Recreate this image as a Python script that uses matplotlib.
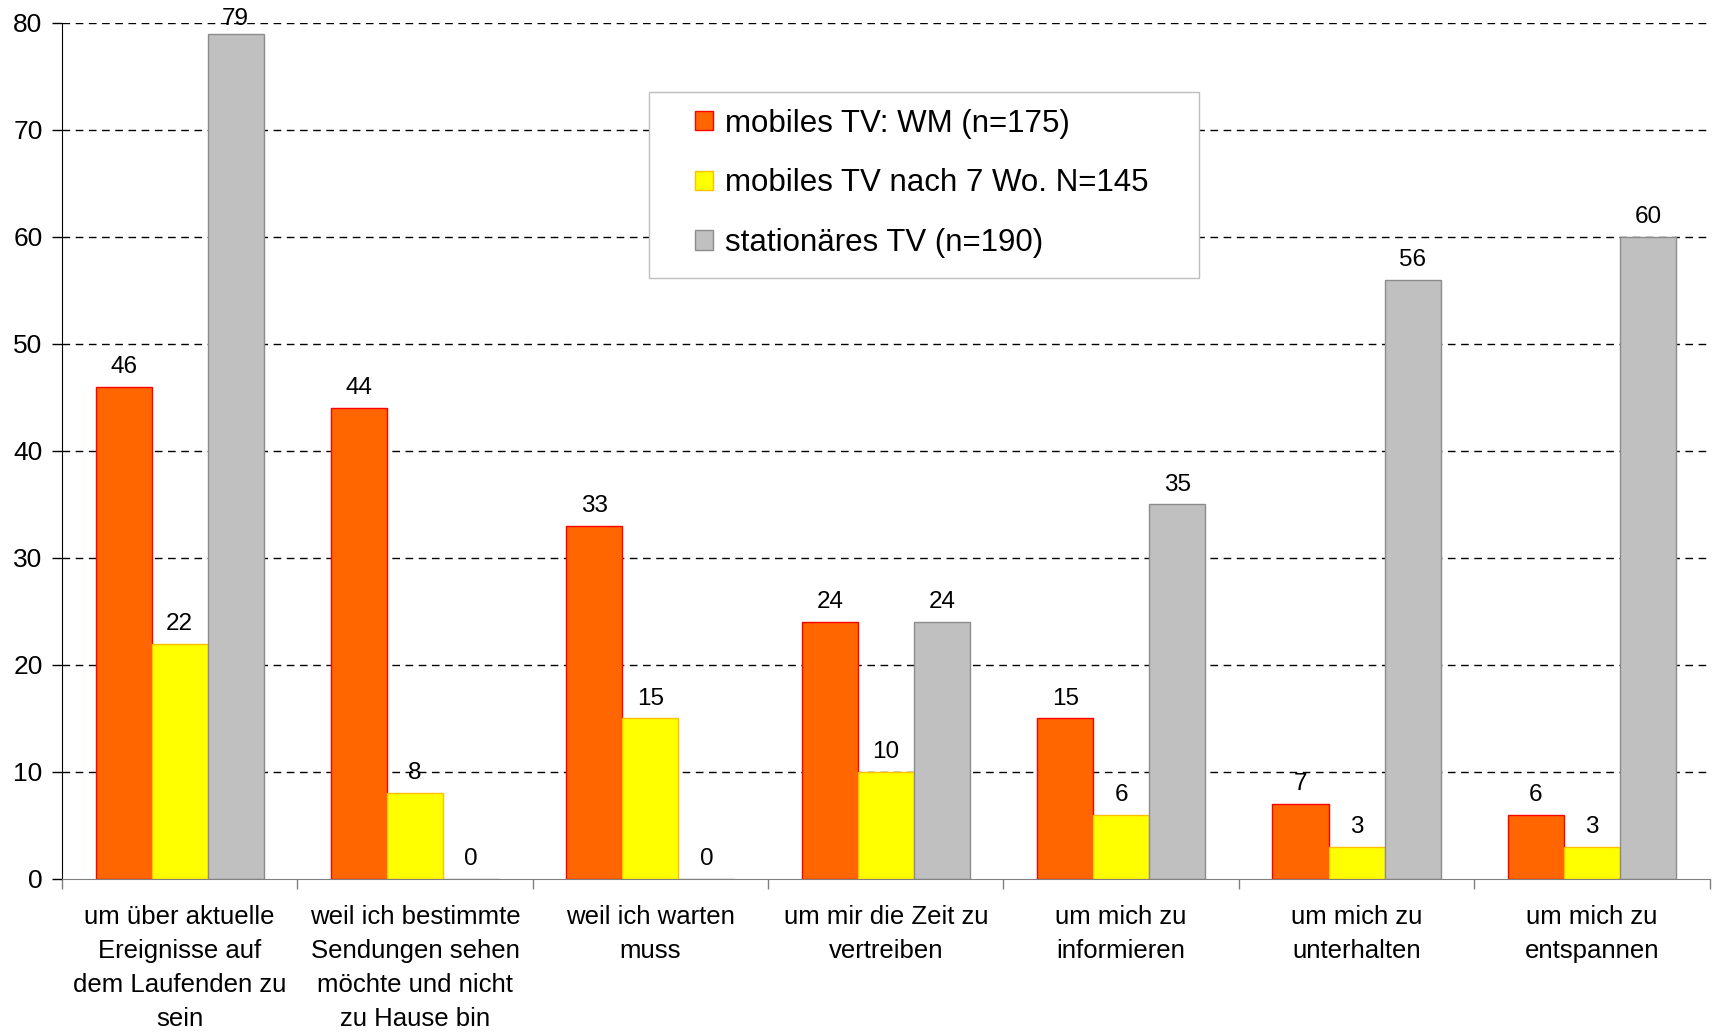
import numpy as np
import matplotlib
matplotlib.use("Agg")
import matplotlib.pyplot as plt
from matplotlib.patches import Rectangle

plt.rcParams['font.family'] = ['Liberation Sans', 'DejaVu Sans']

# ------------------------------
# data
# ------------------------------
categories = [
    "um über aktuelle\nEreignisse auf\ndem Laufenden zu\nsein",
    "weil ich bestimmte\nSendungen sehen\nmöchte und nicht\nzu Hause bin",
    "weil ich warten\nmuss",
    "um mir die Zeit zu\nvertreiben",
    "um mich zu\ninformieren",
    "um mich zu\nunterhalten",
    "um mich zu\nentspannen",
]
series_names = ["mobiles TV: WM (n=175)",
                "mobiles TV nach 7 Wo. N=145",
                "stationäres TV (n=190)"]
mobil_wm = [46, 44, 33, 24, 15, 7, 6]
mobil_7wo = [22, 8, 15, 10, 6, 3, 3]
stationaer = [79, 0, 0, 24, 35, 56, 60]
y_ticks = [0, 10, 20, 30, 40, 50, 60, 70, 80]

face_colors = ["#FF6600", "#FFFF00", "#C0C0C0"]
edge_colors = ["#FF0000", "#FFC000", "#8C8C8C"]

# ------------------------------
# plot
# ------------------------------
fig = plt.figure(figsize=(17.13, 10.34), dpi=100)
ax = fig.add_axes([0.0362, 0.150, 0.9618, 0.8278])

x = np.arange(len(categories))
width = 0.238
ymax = 80
all_series = [mobil_wm, mobil_7wo, stationaer]

handles = []
for i, vals in enumerate(all_series):
    pos = x + (i - 1) * width
    bars = ax.bar(pos, vals, width, color=face_colors[i], edgecolor=edge_colors[i],
                  linewidth=1.0, zorder=3, label=series_names[i])
    handles.append(bars)
    for xp, v in zip(pos, vals):
        # labels stay inside the plot area (like Excel does)
        ly = min(v + 1.3, ymax - 0.2)
        ax.text(xp, ly, str(v), ha="center", va="baseline", fontsize=17.5, zorder=5)

ax.set_xlim(-0.5, len(categories) - 0.5)
ax.set_ylim(0, ymax)
ax.set_yticks(y_ticks)
ax.set_yticklabels([str(t) for t in y_ticks], fontsize=19)
ax.tick_params(axis="y", length=7, width=1, pad=7, direction="out")

ax.set_xticks(x)
ax.set_xticklabels(categories, fontsize=18.5, linespacing=1.53)
ax.set_xticks(np.arange(-0.5, len(categories), 1.0), minor=True)
ax.tick_params(axis="x", which="major", length=0, pad=19)
ax.tick_params(axis="x", which="minor", length=7, width=1, color="#808080")

# dashed gridlines
for t in y_ticks[1:]:
    ax.axhline(t, color="black", linewidth=1.0, linestyle=(0, (5.5, 4)), zorder=1)

for s in ["top", "right"]:
    ax.spines[s].set_visible(False)
ax.spines["left"].set_color("black")
ax.spines["bottom"].set_color("#808080")
ax.spines["bottom"].set_zorder(4)

# legend box
ax.add_patch(Rectangle((0.356, 0.702), 0.334, 0.217, transform=ax.transAxes,
                       facecolor="white", edgecolor="#BFBFBF", linewidth=1.0, zorder=6))
leg = ax.legend(handles=handles, loc="upper left", bbox_to_anchor=(0.3745, 0.918),
                frameon=False, fontsize=22.5, handlelength=0.58, handleheight=0.58,
                handletextpad=0.4, labelspacing=0.95, borderpad=0.0)
leg.set_zorder(7)

fig.savefig("out.png", dpi=100)
